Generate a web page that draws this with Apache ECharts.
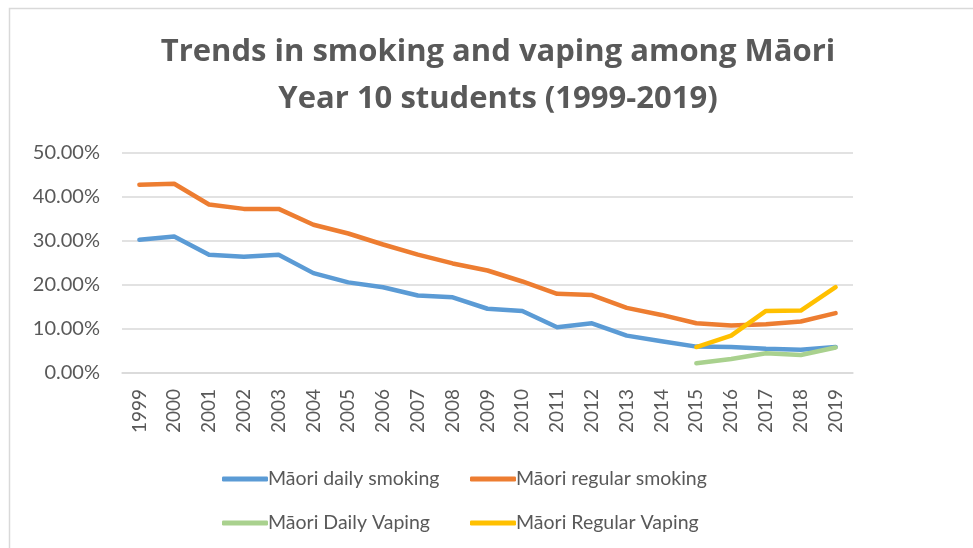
<!DOCTYPE html>
<html>
<head>
<meta charset="utf-8">
<script src="https://cdn.jsdelivr.net/npm/echarts@6/dist/echarts.min.js"></script>
<style>
  html, body { margin: 0; padding: 0; background: #fff; }
  #chart { width: 973px; height: 548px; }
</style>
</head>
<body>
<div id="chart"></div>
<script>
const years = ['1999', '2000', '2001', '2002', '2003', '2004', '2005', '2006', '2007', '2008',
  '2009', '2010', '2011', '2012', '2013', '2014', '2015', '2016', '2017', '2018', '2019'];

// percentages
const dailySmoking = [30.3, 31.0, 26.9, 26.4, 26.9, 22.7, 20.6, 19.5, 17.6, 17.2,
  14.6, 14.1, 10.4, 11.3, 8.5, 7.2, 6.0, 5.9, 5.5, 5.3, 5.9];
const regularSmoking = [42.8, 43.0, 38.3, 37.3, 37.3, 33.7, 31.7, 29.2, 26.9, 24.9,
  23.3, 20.8, 18.0, 17.7, 14.8, 13.2, 11.3, 10.8, 11.1, 11.7, 13.6];
const dailyVaping = [null, null, null, null, null, null, null, null, null, null,
  null, null, null, null, null, null, 2.2, 3.2, 4.5, 4.1, 5.8];
const regularVaping = [null, null, null, null, null, null, null, null, null, null,
  null, null, null, null, null, null, 5.9, 8.5, 14.1, 14.2, 19.5];

const names = ['Māori daily smoking', 'Māori regular smoking', 'Māori Daily Vaping', 'Māori Regular Vaping'];
const colors = ['#5B9BD5', '#ED7D31', '#A9D18E', '#FFC000'];

const textColor = '#595959';
const font = 'Lato';

const chart = echarts.init(document.getElementById('chart'));

const legendAt = (name, left, top) => ({
  data: [name],
  left: left,
  top: top,
  icon: 'roundRect',
  itemWidth: 46,
  itemHeight: 5,
  itemGap: 0,
  textStyle: { color: textColor, fontFamily: font, fontSize: 19.5, padding: [0, 0, 0, -5] }
});

const line = (i, data) => ({
  name: names[i],
  type: 'line',
  data: data,
  symbol: 'none',
  smooth: false,
  lineStyle: { width: 4.5, color: colors[i], cap: 'round', join: 'round' },
  itemStyle: { color: colors[i] }
});

chart.setOption({
  animation: false,
  backgroundColor: '#fff',
  color: colors,
  title: {
    text: 'Trends in smoking and vaping among Māori\nYear 10 students (1999-2019)',
    left: 493,
    top: 24,
    textAlign: 'center',
    textStyle: {
      color: textColor,
      fontFamily: 'Open Sans',
      fontWeight: 'bold',
      fontSize: 31,
      lineHeight: 47
    }
  },
  graphic: [{
    type: 'rect',
    shape: { x: 9.5, y: 8.5, width: 1000, height: 600 },
    style: { fill: 'none', stroke: '#D9D9D9', lineWidth: 1.5 },
    silent: true
  }],
  legend: [
    legendAt(names[0], 217, 464),
    legendAt(names[1], 465, 464),
    legendAt(names[2], 217, 508),
    legendAt(names[3], 465, 508)
  ],
  grid: { left: 122, right: 120, top: 153, bottom: 175, containLabel: false },
  xAxis: {
    type: 'category',
    data: years,
    boundaryGap: true,
    axisLine: { show: true, lineStyle: { color: '#D9D9D9', width: 1.5 } },
    axisTick: { show: false },
    axisLabel: {
      rotate: 90,
      margin: 16,
      color: textColor,
      fontFamily: font,
      fontSize: 19,
      interval: 0
    }
  },
  yAxis: {
    type: 'value',
    min: 0,
    max: 50,
    interval: 10,
    axisLine: { show: false },
    axisTick: { show: false },
    splitLine: { lineStyle: { color: '#D9D9D9', width: 1.5 } },
    axisLabel: {
      margin: 22,
      color: textColor,
      fontFamily: font,
      fontSize: 20,
      formatter: v => v.toFixed(2) + '%'
    }
  },
  series: [
    line(0, dailySmoking),
    line(1, regularSmoking),
    line(2, dailyVaping),
    line(3, regularVaping)
  ]
});
</script>
</body>
</html>
